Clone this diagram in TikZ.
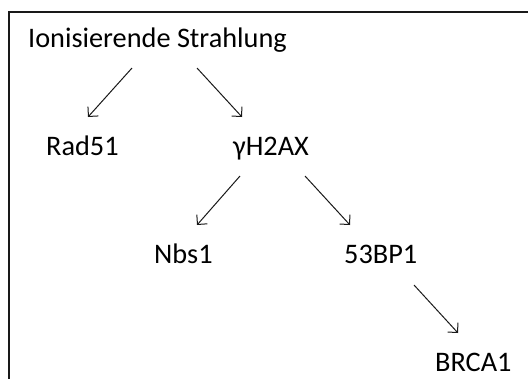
\documentclass[tikz,border=0pt]{standalone}
\usepackage{fontspec}
\setmainfont{Carlito}
\usetikzlibrary{arrows.meta}
\begin{document}
\begin{tikzpicture}[x=1pt,y=-1pt,
  lbl/.style={anchor=base west,inner sep=0pt,font=\fontsize{28.3}{30}\selectfont,text=black},
  arr/.style={draw=black!90,line width=1pt,-{Straight Barb[length=7pt,width=14pt,line width=1pt]}},
  frame/.style={draw=black!90,line width=2pt}]
\useasboundingbox (0,0) rectangle (528,378);
\coordinate (fb) at (8.5,380);
\coordinate (fc) at (8.5,12);
\coordinate (fr) at (530,12);
\draw[frame] (fb) -- (fc) -- (fr);
\node[lbl] (top) at (28,47) {Ionisierende Strahlung};
\node[lbl] (rad) at (46,155) {Rad51};
\node[lbl] (gh) at (233,155) {γH2AX};
\node[lbl] (nbs) at (154,263) {Nbs1};
\node[lbl] (bp) at (344,263) {53BP1};
\node[lbl] (brca) at (435,371) {BRCA1};
\draw[arr] ([shift={(104,21)}]top.base west) -- ([shift={(42,-38)}]rad.base west);
\draw[arr] ([shift={(169,21)}]top.base west) -- ([shift={(9,-38)}]gh.base west);
\draw[arr] ([shift={(7,21)}]gh.base west) -- ([shift={(43,-38)}]nbs.base west);
\draw[arr] ([shift={(72,21)}]gh.base west) -- ([shift={(6,-38)}]bp.base west);
\draw[arr] ([shift={(70,22)}]bp.base west) -- ([shift={(23,-38)}]brca.base west);
\end{tikzpicture}
\end{document}
